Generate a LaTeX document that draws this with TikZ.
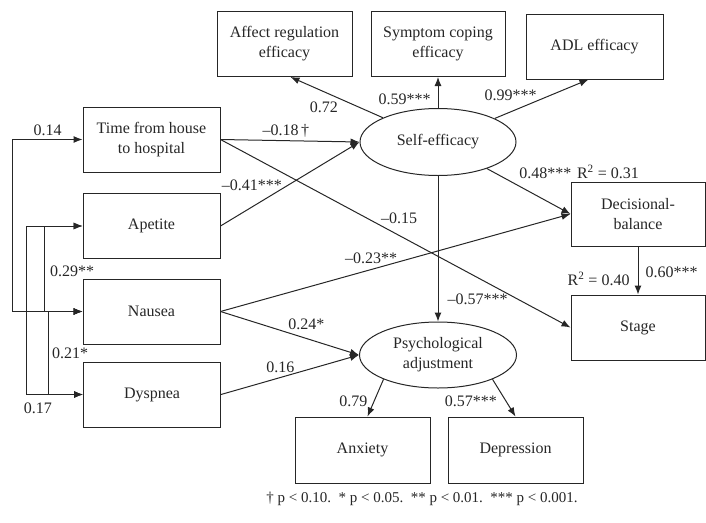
\documentclass[tikz,border=0pt]{standalone}
\usepackage{fontspec}
\setmainfont{Liberation Serif}
\usetikzlibrary{positioning,arrows.meta,shapes.geometric}

\begin{document}
\begin{tikzpicture}[x=1pt, y=-1pt, >={Latex[length=9pt,width=7pt]},
  color=black!85, line width=1pt, font=\fontsize{16}{20}\selectfont,
  obsbox/.style={draw, rectangle, align=center, minimum width=137pt, minimum height=65pt, inner sep=2pt},
  latent/.style={draw, ellipse, align=center, minimum width=156pt, minimum height=67pt, inner sep=0pt},
  lab/.style={inner sep=1pt}]
 \useasboundingbox (0,0) rectangle (706,522);

 % observed predictors
 \node (time) [obsbox] at (151.5,139.5) {Time from house\\to hospital};
 \node (apetite) [obsbox] at (151.5,226) {Apetite};
 \node (nausea) [obsbox] at (151.5,311.5) {Nausea};
 \node (dyspnea) [obsbox] at (152,394.5) {Dyspnea};

 % self-efficacy and its indicators
 \node (affect) [obsbox, minimum width=135pt] at (284.5,44) {Affect regulation\\efficacy};
 \node (symptom) [obsbox, minimum width=134pt] at (438,44) {Symptom coping\\efficacy};
 \node (adl) [obsbox] at (594.5,46.5) {ADL efficacy};
 \node (selfeff) [latent] at (438,142) {Self-efficacy};

 % outcomes
 \node (decision) [obsbox, minimum width=134pt, minimum height=64pt] at (638,214) {Decisional-\\balance};
 \node (stage) [obsbox, minimum width=134pt] at (638,327.5) {Stage};
 \node (psych) [latent, minimum width=157pt, minimum height=66pt] at (438,355) {Psychological\\adjustment};
 \node (anxiety) [obsbox, minimum width=135pt, minimum height=66pt] at (362.5,450) {Anxiety};
 \node (depress) [obsbox, minimum width=135pt, minimum height=66pt] at (515.5,450) {Depression};

 \draw[->] (selfeff) -- node[lab, pos=.64, below=9pt] (w1) {0.72} ([xshift=6pt]affect.south);
 \draw[->] (selfeff) -- node[lab, pos=.29, left=6pt] (w2) {0.59***} (symptom);
 \draw[->] (selfeff) -- node[lab, pos=.17, above=10pt] (w3) {0.99***} ([xshift=-6pt]adl.south);
 \draw[->] (time.east) -- node[lab, pos=.47, above=2pt] (w4) {--0.18\,†} (selfeff.west);
 \draw[->] (apetite.east) -- node[lab, pos=.46, left=1pt, yshift=2pt] (w5) {--0.41***} (selfeff.west);
 \draw[->] (time.east) -- node[lab, pos=.51, above=10pt] (w6) {--0.15} (stage.west);
 \draw[->] (nausea.east) -- node[lab, pos=.43, above=4pt] (w7) {--0.23**} (decision.west);
 \draw[->] (nausea.east) -- node[lab, pos=.62, above=7pt] (w8) {0.24*} (psych.west);
 \draw[->] (dyspnea.east) -- node[lab, pos=.43, above=3pt] (w9) {0.16} (psych.west);
 \draw[->] (selfeff) -- node[lab, pos=.85, right=8pt] (w10) {--0.57***} (psych);
 \draw[->] (selfeff) -- node[lab, pos=.37, anchor=south west, yshift=5pt] (w11) {0.48***} (decision.west);
 \node[lab, above right=1pt and 5pt of decision.north west] (r2dec) {R\textsuperscript{2} = 0.31};
 \draw[->] (decision) -- node[lab, pos=.53, right=6pt] (w12) {0.60***}
   node[lab, pos=.68, left=7pt] (r2stage) {R\textsuperscript{2} = 0.40} (stage);
 \draw[->] (psych.204) -- node[lab, pos=.6, left=5pt] (w13) {0.79} ([xshift=5pt]anxiety.north);
 \draw[->] (psych.336) -- node[lab, pos=.6, left=8pt] (w14) {0.57***} (depress.north);

 % correlations among the symptoms
 \draw[<->] (nausea.west) -- ++(-70,0) |- node[lab, pos=.75, above=2pt] (c1) {0.14} (time.west);
 \draw[<->] (apetite.west) -- ++(-38,0) |- node[lab, pos=.25, right=4pt, yshift=-3pt] (c2) {0.29**} (nausea.west);
 \draw[<->] (nausea.west) -- ++(-34,0) |- node[lab, pos=.25, right=2pt] (c3) {0.21*} (dyspnea.west);
 \draw[<->] (apetite.west) -- ++(-56,0) |- node[lab, pos=.6, below=7pt] (c4) {0.17} (dyspnea.west);

 \node (note) [font=\fontsize{15}{18}\selectfont] at (422,499) {† p < 0.10.\ \ * p < 0.05.\ \ ** p < 0.01.\ \ *** p < 0.001.};
\end{tikzpicture}
\end{document}
